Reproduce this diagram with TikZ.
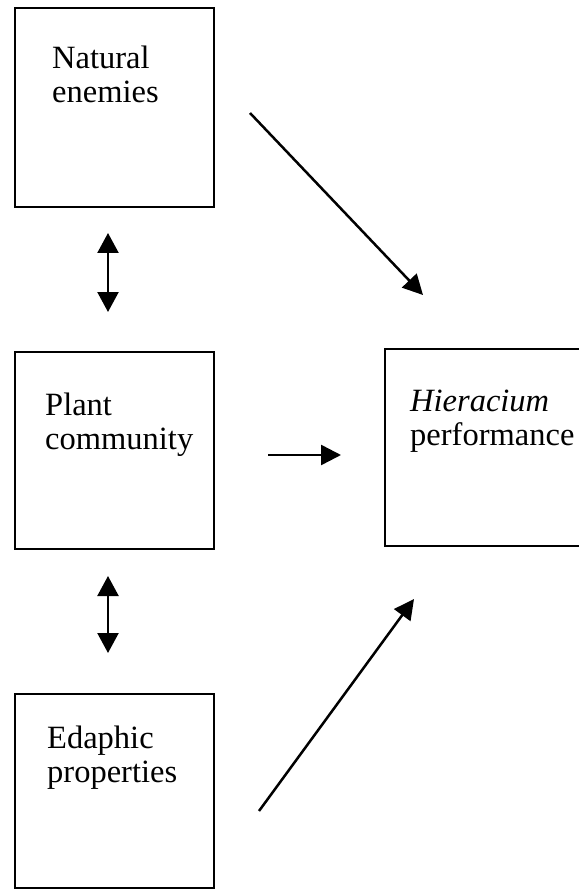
\documentclass[tikz,border=0pt]{standalone}
\usepackage{fontspec}
\setmainfont{Liberation Serif}
\usetikzlibrary{arrows.meta,positioning}

\begin{document}
\begin{tikzpicture}[x=1pt,y=-1pt,
  factor/.style={draw,line width=2pt,inner sep=0pt},
  boxtext/.style={anchor=base west,align=left,inner sep=0pt,
    font=\fontsize{32.5}{34}\selectfont},
  link/.style={line width=2.5pt,-{Triangle[length=20pt,width=20pt]}},
  mutual/.style={line width=2.3pt,
    {Triangle[length=20pt,width=21pt]}-{Triangle[length=20pt,width=21pt]}}]
  \useasboundingbox (0,0) rectangle (578,890);
  % --- boxes ---
  \node[factor,minimum width=199pt,minimum height=199pt] (enemies) at (114.5,107.5) {};
  \node[factor,minimum width=199pt,minimum height=197pt] (plant)   at (114.5,450.5) {};
  \node[factor,minimum width=199pt,minimum height=194pt] (edaphic) at (114.5,791) {};
  \node[factor,minimum width=207pt,minimum height=197pt] (hier)    at (488.5,447.5) {};
  % --- labels (base = last line) ---
  \node[boxtext] (enemies-txt) at ([shift={(38,96)}]enemies.north west) {Natural\\enemies};
  \node[boxtext] (plant-txt)   at ([shift={(31,98)}]plant.north west)   {Plant\\community};
  \node[boxtext] (edaphic-txt) at ([shift={(33,89)}]edaphic.north west) {Edaphic\\properties};
  \node[boxtext] (hier-txt)    at ([shift={(26,97)}]hier.north west)    {\textit{Hieracium}\\performance};
  % --- arrow ends ---
  \coordinate (m1a) at (108,233);
  \coordinate (m1b) at (108,312);
  \coordinate (m2a) at (108,576);
  \coordinate (m2b) at (108,653);
  \coordinate (e-start) at (250,113);
  \coordinate (e-end)   at (423,295);
  \coordinate (p-start) at (268,455);
  \coordinate (p-end)   at (341,455);
  \coordinate (s-start) at (259,811);
  \coordinate (s-end)   at (414,599);
  % --- connectors ---
  \draw[mutual] (m1a) -- (m1b);
  \draw[mutual] (m2a) -- (m2b);
  \draw[link] (e-start) -- (e-end);
  \draw[link] (p-start) -- (p-end);
  \draw[link] (s-start) -- (s-end);
\end{tikzpicture}
\end{document}
